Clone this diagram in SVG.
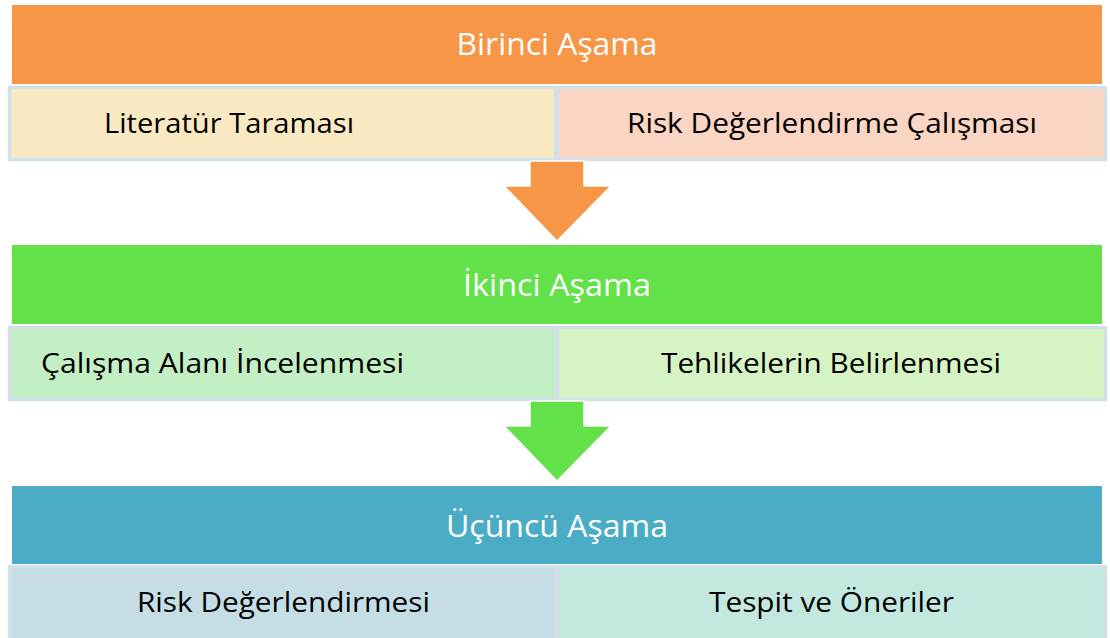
<svg xmlns="http://www.w3.org/2000/svg" width="1110" height="638" viewBox="0 0 1110 638">
<style>
.hdr{font-family:"Open Sans","Noto Sans",sans-serif;font-size:31px;fill:#ffffff;}
.sub{font-family:"Open Sans","Noto Sans",sans-serif;font-size:28px;fill:#000000;}
.box{stroke:#D2E1E8;stroke-width:3.5;}
.arrow{stroke:#ffffff;stroke-width:1.5;stroke-linejoin:round;}
</style>
<rect width="1110" height="638" fill="#ffffff"/>
<g id="stage1">
<rect x="12" y="5" width="1090" height="79" fill="#F79646"/>
<text class="hdr" x="557" y="55" text-anchor="middle" textLength="201" lengthAdjust="spacingAndGlyphs">Birinci Aşama</text>
</g>
<g id="literatur">
<rect class="box" x="9.5" y="87.5" width="546" height="72" fill="#F8E9C3"/>
<text class="sub" x="104" y="133" textLength="250" lengthAdjust="spacingAndGlyphs">Literatür Taraması</text>
</g>
<g id="risk-calisma">
<rect class="box" x="557.5" y="87.5" width="548" height="72" fill="#FBD5C3"/>
<text class="sub" x="627" y="133" textLength="410" lengthAdjust="spacingAndGlyphs">Risk Değerlendirme Çalışması</text>
</g>
<g id="stage2">
<rect x="12" y="245" width="1090" height="79" fill="#62E248"/>
<text class="hdr" x="557" y="296" text-anchor="middle" textLength="188" lengthAdjust="spacingAndGlyphs">İkinci Aşama</text>
</g>
<g id="calisma-alani">
<rect class="box" x="9.5" y="327.5" width="546" height="72" fill="#C3EFC4"/>
<text class="sub" x="41" y="373" textLength="363" lengthAdjust="spacingAndGlyphs">Çalışma Alanı İncelenmesi</text>
</g>
<g id="tehlikeler">
<rect class="box" x="557.5" y="327.5" width="548" height="72" fill="#D5F3C3"/>
<text class="sub" x="661" y="373" textLength="340" lengthAdjust="spacingAndGlyphs">Tehlikelerin Belirlenmesi</text>
</g>
<g id="stage3">
<rect x="12" y="486" width="1090" height="78" fill="#4BACC6"/>
<text class="hdr" x="557" y="537" text-anchor="middle" textLength="222" lengthAdjust="spacingAndGlyphs">Üçüncü Aşama</text>
</g>
<g id="risk-degerlendirmesi">
<rect class="box" x="9.5" y="566.5" width="546" height="74" fill="#C5DDE5"/>
<text class="sub" x="137" y="612" textLength="293" lengthAdjust="spacingAndGlyphs">Risk Değerlendirmesi</text>
</g>
<g id="tespit">
<rect class="box" x="557.5" y="566.5" width="548" height="74" fill="#C2E8E0"/>
<text class="sub" x="709" y="612" textLength="245" lengthAdjust="spacingAndGlyphs">Tespit ve Öneriler</text>
</g>
<g id="connectors">
<polygon class="arrow" fill="#F79646" points="530,161 584,161 584,186 611,186 557,241 504,186 530,186"/>
<polygon class="arrow" fill="#62E248" points="530,401 584,401 584,426 611,426 557,481 504,426 530,426"/>
</g>
</svg>
